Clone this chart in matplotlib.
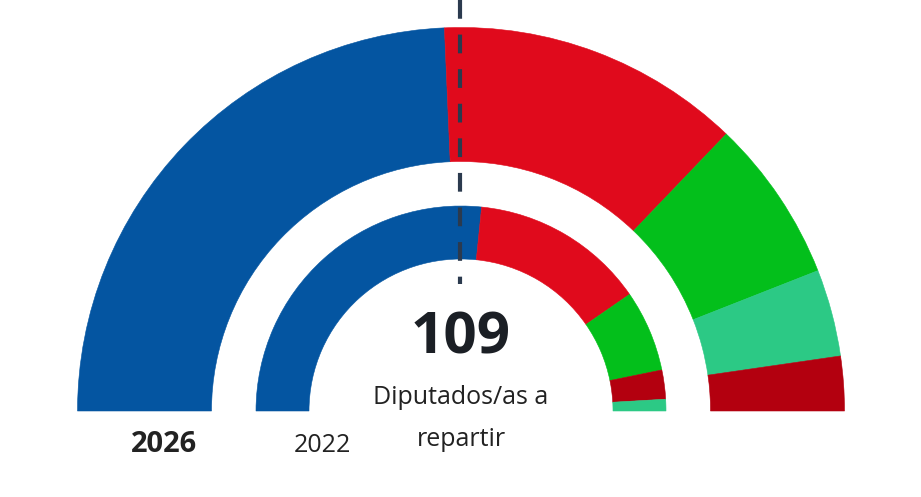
import matplotlib
matplotlib.use("Agg")
import matplotlib.pyplot as plt
from matplotlib.patches import Wedge

# seats per party, in drawing order (left to right)
total_seats = 109
seats_2026 = [53, 28, 15, 8, 5]
colors_2026 = ['#0455a1', '#e00a1c', '#03bf1b', '#2cc985', '#b3000f']
seats_2022 = [58, 30, 14, 5, 2]
colors_2022 = ['#0455a1', '#e00a1c', '#03bf1b', '#b3000f', '#2cc985']

W, H = 921, 497
fig = plt.figure(figsize=(W / 100, H / 100), dpi=100)
ax = fig.add_axes([0, 0, 1, 1])
ax.set_xlim(0, W)
ax.set_ylim(0, H)
ax.axis('off')

cx, cy = 461, H - 411


def ring(seats, colors, r_out, r_in):
    start = 180.0
    for s, c in zip(seats, colors):
        span = s / total_seats * 180.0
        ax.add_patch(Wedge((cx, cy), r_out, start - span, start,
                           width=r_out - r_in, facecolor=c, edgecolor=c,
                           linewidth=0.4))
        start -= span


ring(seats_2026, colors_2026, 383.5, 249.5)
ring(seats_2022, colors_2022, 205, 152)

# majority line
ax.plot([cx - 1, cx - 1], [H, H - 284], color='#2b3a4e', linewidth=3,
        linestyle=(0, (4.5, 3.8)), zorder=5)

font = ['Open Sans', 'DejaVu Sans']
ax.text(cx, H - 338, str(total_seats), ha='center', va='center',
        fontsize=42, fontweight='bold', color='#1b1f25', family=font)
ax.text(cx, H - 398, 'Diputados/as a', ha='center', va='center',
        fontsize=18, color='#222222', family=font)
ax.text(cx, H - 440, 'repartir', ha='center', va='center',
        fontsize=18, color='#222222', family=font)
ax.text(164, H - 445, '2026', ha='center', va='center',
        fontsize=21, fontweight='bold', color='#222222', family=font)
ax.text(322, H - 445, '2022', ha='center', va='center',
        fontsize=18, color='#222222', family=font)

fig.savefig('out.png', dpi=100, facecolor='white')
